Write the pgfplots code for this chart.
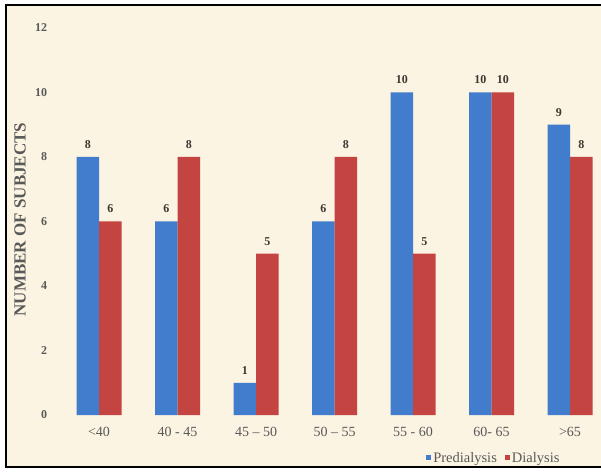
\documentclass[border=0pt]{standalone}
\usepackage{fontspec}
\setmainfont{Liberation Serif}
\usepackage{pgfplots}
\pgfplotsset{compat=1.18}
\definecolor{bgcream}{RGB}{252,244,226}
\definecolor{barblue}{RGB}{66,124,204}
\definecolor{barred}{RGB}{196,68,66}
\definecolor{txt}{RGB}{89,89,89}
\definecolor{valtxt}{RGB}{60,55,50}
\begin{document}
\begin{tikzpicture}
\useasboundingbox (0,0) rectangle (601pt,471pt);
\fill[white] (0,0) rectangle (601pt,471pt);
\fill[bgcream] (6pt,4pt) rectangle (601pt,466pt);
\draw[line width=2.5pt] (601pt,466pt) -- (6pt,466pt) -- (6pt,4pt) -- (601pt,4pt);
\begin{axis}[
  at={(59.75pt,56pt)}, anchor=south west,
  scale only axis, width=541.25pt, height=387pt,
  xmin=-0.5, xmax=6.395, ymin=0, ymax=12,
  ybar=0pt, bar width=22.5pt,
  axis line style={draw=none}, major tick length=0pt,
  xtick={0,1,2,3,4,5,6},
  xticklabels={{<40},{40 - 45},{45 -- 50},{50 -- 55},{55 - 60},{60- 65},{>65}},
  ytick={0,2,4,6,8,10,12},
  /pgf/number format/assume math mode=true,
  xticklabel style={font=\fontsize{14}{16}\selectfont, text=txt, yshift=-8.5pt},
  yticklabel style={font=\fontsize{12}{14}\selectfont\bfseries, text=txt, xshift=-9pt},
  ylabel={NUMBER OF SUBJECTS},
  every axis y label/.style={at={(rel axis cs:-0.0735,0.505)}, rotate=90, anchor=center,
     font=\fontsize{17}{19}\selectfont\bfseries, text=txt},
  nodes near coords,
  every node near coord/.append style={font=\fontsize{12}{14}\selectfont\bfseries, text=valtxt, yshift=5pt},
  legend image code/.code={\fill[#1] (0pt,-2.5pt) rectangle (5pt,2.5pt);},
  legend columns=2,
  legend style={at={(0.802,-0.111)}, anchor=center, draw=none, fill=none,
     font=\fontsize{14.5}{16}\selectfont, text=txt,
     /tikz/every even column/.append style={column sep=6pt}},
]
\addplot[fill=barblue, draw=none] coordinates {(0,8) (1,6) (2,1) (3,6) (4,10) (5,10) (6,9)};
\addplot[fill=barred, draw=none] coordinates {(0,6) (1,8) (2,5) (3,8) (4,5) (5,10) (6,8)};
\legend{Predialysis, Dialysis}
\end{axis}
\end{tikzpicture}
\end{document}
